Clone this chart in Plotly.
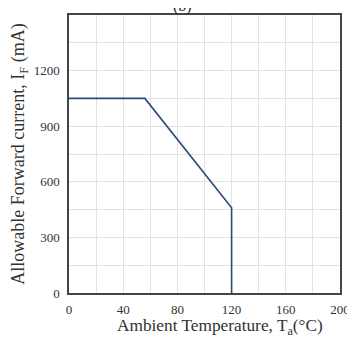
import plotly.graph_objects as go

temps = [0, 56, 120, 120]
currents = [1050, 1050, 460, 0]
x_ticks = [0, 40, 80, 120, 160, 200]
x_tick_labels = ["0", "40", "80", "120", "160", "200"]
y_ticks = [0, 300, 600, 900, 1200]
y_tick_labels = ["0", "300", "600", "900", "1200"]
x_title = "Ambient Temperature, T<sub>a</sub>(°C)"
y_title = "Allowable Forward current, I<sub>F</sub> (mA)"

fig = go.Figure()
fig.add_trace(go.Scatter(x=temps, y=currents, mode="lines",
                         line=dict(color="#2b4a78", width=1.6), showlegend=False))

font = "Liberation Serif, Times New Roman, serif"
fig.update_layout(
    width=347, height=337,
    margin=dict(l=59, r=9, t=5, b=52),
    paper_bgcolor="white", plot_bgcolor="white",
    font=dict(family=font, size=13, color="#333"),
    annotations=[
        dict(text="(b)", x=0.42, y=1, xref="paper", yref="paper",
             yanchor="bottom", yshift=-2, showarrow=False,
             font=dict(size=16, family=font, color="#222")),
        dict(text=x_title, x=0.556, y=0, xref="paper", yref="paper",
             yanchor="middle", xanchor="center", yshift=-34, showarrow=False,
             font=dict(size=17.3, family=font, color="#333")),
    ],
)
fig.update_xaxes(range=[0, 200], tickvals=x_ticks, ticktext=x_tick_labels,
                 showline=True, linecolor="#444", linewidth=1.5, mirror=True,
                 showgrid=True, gridcolor="#e2e2e2", gridwidth=1,
                 minor=dict(dtick=20, showgrid=True, gridcolor="#e2e2e2"),
                 ticks="", zeroline=False, ticklabelstandoff=4,
                 ticklabeloverflow="allow")
fig.update_yaxes(range=[0, 1500], tickvals=y_ticks, ticktext=y_tick_labels,
                 showline=True, linecolor="#444", linewidth=1.5, mirror=True,
                 showgrid=True, gridcolor="#e2e2e2", gridwidth=1,
                 minor=dict(dtick=150, showgrid=True, gridcolor="#e2e2e2"),
                 ticks="", zeroline=False, ticklabelstandoff=5,
                 title=dict(text=y_title,
                            font=dict(size=18, family=font, color="#333"), standoff=8))
fig.write_html("out.html")
